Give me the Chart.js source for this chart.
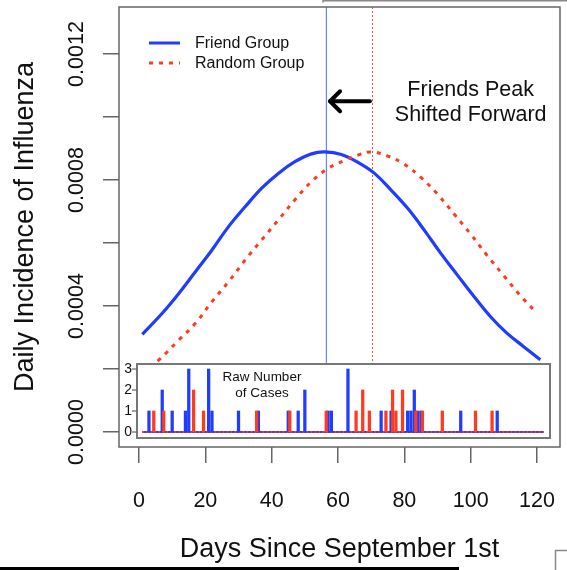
<!DOCTYPE html>
<html><head><meta charset="utf-8">
<script src="https://cdn.jsdelivr.net/npm/chart.js@4"></script>
<style>html,body{margin:0;padding:0;background:#fff;}#wrap{width:567px;height:570px;position:relative;}</style>
</head><body><div id="wrap"><canvas id="c" width="567" height="570"></canvas></div>
<script>
// ---- data ----
const friendDays = [1,7,12,17,22,27,32,37,42,47,52,56,61,66,71,76,81,86,91,96,101,106,111,116,121];
const friendIncidence = [0.000310,0.000377,0.000440,0.000509,0.000578,0.000652,0.000715,0.000774,0.000821,0.000858,0.000883,0.000889,0.000881,0.000856,0.000821,0.000768,0.000710,0.000641,0.000567,0.000498,0.000430,0.000366,0.000313,0.000271,0.000229];
const randomDays = [1,6,12,17,22,27,32,37,42,47,52,57,62,66,70,75,80,85,90,95,100,105,110,115,120];
const randomIncidence = [0.000185,0.000229,0.000292,0.000345,0.000414,0.000477,0.000546,0.000610,0.000673,0.000737,0.000795,0.000837,0.000862,0.000879,0.000889,0.000876,0.000850,0.000808,0.000755,0.000692,0.000628,0.000560,0.000496,0.000433,0.000377];
const friendCaseDays = [3,7,10,14,15,21,22,30,36,45,48,50,57,58,63,73,76,81,82,83,84,85,97,108];
const friendCaseCounts = [1,2,1,1,3,3,1,1,1,1,1,2,1,1,3,1,1,1,1,2,1,1,1,1];
const randomCaseDays = [4,7,16,19,35,45,56,65,67,69,74,76,77,79,83,85,91,101,106];
const randomCaseCounts = [1,1,2,1,1,1,1,1,2,1,1,2,1,2,1,1,1,1,1];
const caseDayRange = [1,122];
const friendPeakDay = 56.5;
const randomPeakDay = 70.1;
const xTicks = [0,20,40,60,80,100,120];
const yTicks = [0,0.0002,0.0004,0.0006,0.0008,0.0010,0.0012];
const yLabelTicks = [0,0.0004,0.0008,0.0012];
const insetTicks = [0,1,2,3];
const seriesNames = ['Friend Group','Random Group'];

// ---- styling ----
const BLUE = '#1f3cff', RED = '#ff3a1f', GRAY = '#666', TXT = '#111';
const FONT = '"Liberation Sans", Arial, sans-serif';
const randomCaseShift = 0.45;
const arrowFrom = 69.6, arrowTo = 57.6, arrowLevel = 0.00105;

const xy = (xs, ys) => xs.map((x,i)=>({x, y: ys[i]}));

const insetBox = {l:137, r:550, t:364, b:438};

const decor = {
  id:'decor',
  beforeDatasetsDraw(chart){
    const {ctx, chartArea:a, scales:{x}} = chart;
    ctx.save();
    ctx.lineWidth = 1.2;
    ctx.strokeStyle = 'rgba(40,80,255,0.7)';
    let px = x.getPixelForValue(friendPeakDay);
    ctx.beginPath(); ctx.moveTo(px, a.top); ctx.lineTo(px, insetBox.t); ctx.stroke();
    ctx.strokeStyle = '#ff4a3a'; ctx.lineWidth = 1;
    ctx.setLineDash([2,2]);
    px = Math.round(x.getPixelForValue(randomPeakDay)) + 0.5;
    ctx.beginPath(); ctx.moveTo(px, a.top); ctx.lineTo(px, insetBox.t); ctx.stroke();
    ctx.restore();
  },
  beforeDatasetDraw(chart, args){
    if (!chart.data.datasets[args.index].insetStart) return;
    const ctx = chart.ctx;
    ctx.save();
    ctx.fillStyle = '#fff';
    ctx.fillRect(insetBox.l, insetBox.t, insetBox.r-insetBox.l, insetBox.b-insetBox.t);
    ctx.restore();
  },
  afterDatasetsDraw(chart){
    const {ctx, chartArea:a, scales:{x, y, yi}} = chart;
    ctx.save();
    // inset frame
    ctx.strokeStyle = '#777'; ctx.lineWidth = 2;
    ctx.strokeRect(insetBox.l, insetBox.t, insetBox.r-insetBox.l, insetBox.b-insetBox.t);
    // inset axis
    ctx.fillStyle = TXT; ctx.font = '14px '+FONT; ctx.textAlign='right'; ctx.textBaseline='middle';
    ctx.strokeStyle = GRAY; ctx.lineWidth = 1.2;
    insetTicks.forEach(t=>{
      const py = yi.getPixelForValue(t);
      ctx.fillText(String(t), 132, py+0.5);
      ctx.beginPath(); ctx.moveTo(132, py); ctx.lineTo(insetBox.l, py); ctx.stroke();
    });
    ctx.textAlign='center'; ctx.font='13.5px '+FONT;
    ctx.fillText('Raw Number', 262, 377);
    ctx.fillText('of Cases', 262, 393);
    // main box
    ctx.strokeStyle = GRAY; ctx.lineWidth = 1.5;
    ctx.strokeRect(a.left, a.top, a.right-a.left, a.bottom-a.top);
    // y tick labels (rotated, R style)
    ctx.font = '21.5px '+FONT; ctx.fillStyle = TXT; ctx.textAlign='center'; ctx.textBaseline='middle';
    yLabelTicks.forEach(v=>{
      const py = y.getPixelForValue(v);
      ctx.save(); ctx.translate(77, py); ctx.rotate(-Math.PI/2);
      ctx.fillText(v.toFixed(4), 0, 0); ctx.restore();
    });
    // legend
    ctx.lineWidth = 3; ctx.strokeStyle = BLUE;
    ctx.beginPath(); ctx.moveTo(149, 43); ctx.lineTo(180, 43); ctx.stroke();
    ctx.strokeStyle = RED; ctx.setLineDash([4,6]);
    ctx.beginPath(); ctx.moveTo(149, 63); ctx.lineTo(180, 63); ctx.stroke();
    ctx.setLineDash([]);
    ctx.font = '16px '+FONT; ctx.textAlign='left'; ctx.fillStyle = TXT;
    ctx.fillText(seriesNames[0], 195, 44);
    ctx.fillText(seriesNames[1], 195, 64);
    // annotation
    ctx.font = '21.5px '+FONT; ctx.textAlign='center';
    ctx.fillText('Friends Peak', x.getPixelForValue(100), y.getPixelForValue(0.001086));
    ctx.fillText('Shifted Forward', x.getPixelForValue(100), y.getPixelForValue(0.001006));
    // arrow
    const ay = y.getPixelForValue(arrowLevel), x0 = x.getPixelForValue(arrowFrom), x1 = x.getPixelForValue(arrowTo);
    ctx.strokeStyle = '#000'; ctx.lineWidth = 4; ctx.lineCap='round'; ctx.lineJoin='round';
    ctx.beginPath(); ctx.moveTo(x0, ay); ctx.lineTo(x1, ay); ctx.stroke();
    ctx.beginPath(); ctx.moveTo(x1+10, ay-10); ctx.lineTo(x1, ay); ctx.lineTo(x1+10, ay+10); ctx.stroke();
    ctx.restore();
  },
  afterDraw(chart){
    const ctx = chart.ctx;
    ctx.save();
    // cropping artifacts of the source figure
    ctx.strokeStyle = '#888'; ctx.lineWidth = 1.5;
    ctx.beginPath(); ctx.moveTo(323, 2.5); ctx.lineTo(323, 0.75); ctx.lineTo(567, 0.75); ctx.stroke();
    ctx.beginPath(); ctx.moveTo(555.5, 570); ctx.lineTo(555.5, 550.5); ctx.lineTo(567, 550.5); ctx.stroke();
    ctx.strokeStyle = '#000'; ctx.lineWidth = 3;
    ctx.beginPath(); ctx.moveTo(0, 568.5); ctx.lineTo(459, 568.5); ctx.stroke();
    ctx.restore();
  }
};

const tickGrid = {display:true, drawOnChartArea:false, drawTicks:true, tickLength:16, color:GRAY, lineWidth:1.5};
const noPad = s => { s.paddingLeft = 0; s.paddingRight = 0; s.paddingTop = 0; s.paddingBottom = 0; };

new Chart(document.getElementById('c'), {
  type:'line',
  data:{datasets:[
    {label:seriesNames[0], data:xy(friendDays, friendIncidence), borderColor:BLUE, borderWidth:3.2, pointRadius:0, tension:0.4, order:20},
    {label:seriesNames[1], data:xy(randomDays, randomIncidence), borderColor:RED, borderWidth:3, borderDash:[4,6], pointRadius:0, tension:0.4, order:19},
    {label:'base friend', insetStart:true, data:caseDayRange.map(d=>({x:d,y:0})), xAxisID:'xi', yAxisID:'yi', borderColor:BLUE, borderWidth:2, pointRadius:0, order:9},
    {label:'base random', data:caseDayRange.map(d=>({x:d,y:0})), xAxisID:'xi', yAxisID:'yi', borderColor:RED, borderWidth:2, borderDash:[2,2], pointRadius:0, order:8},
    {type:'bar', label:'friend cases', data:xy(friendCaseDays, friendCaseCounts), xAxisID:'xi', yAxisID:'yi', backgroundColor:BLUE, barThickness:2.6, grouped:false, order:7},
    {type:'bar', label:'random cases', data:xy(randomCaseDays.map(d=>d+randomCaseShift), randomCaseCounts), xAxisID:'xi', yAxisID:'yi', backgroundColor:RED, barThickness:2.6, grouped:false, order:6}
  ]},
  options:{
    responsive:false, animation:false, events:[],
    layout:{padding:{left:0, right:7, top:7, bottom:0}},
    plugins:{legend:{display:false}, tooltip:{enabled:false}},
    scales:{
      x:{type:'linear', position:'bottom', min:-6.03, max:126.93, offset:false,
         afterBuildTicks:s=>{s.ticks = xTicks.map(v=>({value:v}));},
         afterFit:s=>{s.height = 123; noPad(s);},
         grid:tickGrid, border:{display:false},
         ticks:{font:{family:FONT, size:21.5}, color:TXT, padding:25, maxRotation:0, callback:v=>String(v)},
         title:{display:true, text:'Days Since September 1st', font:{family:FONT, size:27}, color:TXT, padding:{top:0, bottom:4}}},
      y:{type:'linear', position:'left', min:-0.0000476, max:0.00134921,
         afterBuildTicks:s=>{s.ticks = yTicks.map(v=>({value:v}));},
         afterFit:s=>{s.width = 119; noPad(s);},
         grid:tickGrid, border:{display:false},
         ticks:{display:false},
         title:{display:true, text:'Daily Incidence of Influenza', font:{family:FONT, size:27}, color:TXT, padding:{top:9, bottom:0}}},
      xi:{type:'linear', display:false, offset:false, min:-6.03, max:126.93},
      yi:{type:'linear', display:false, min:-0.714, max:20.238}
    }
  },
  plugins:[decor]
});
</script></body></html>
